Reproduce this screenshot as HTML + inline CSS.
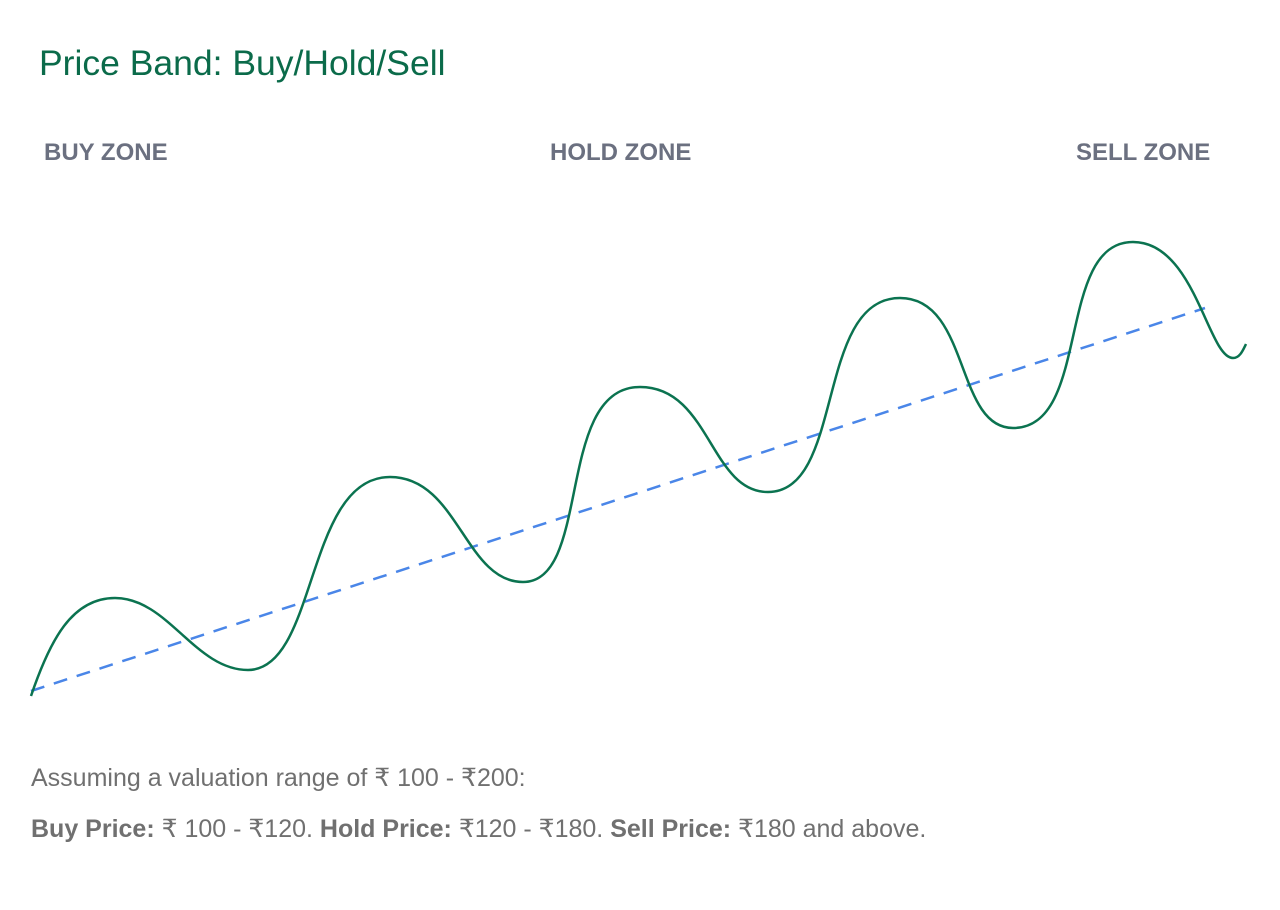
<!DOCTYPE html>
<html><head><meta charset="utf-8"><style>
body{margin:0;background:#fff;width:1280px;height:910px;overflow:hidden;font-family:"Liberation Sans",sans-serif;position:relative}
.t{position:absolute;white-space:nowrap}
</style></head><body>
<div class="t" style="left:39px;top:43px;font-size:35.5px;color:#0b6b4a">Price Band: Buy/Hold/Sell</div>
<div class="t" style="left:44px;top:139px;font-size:24px;font-weight:bold;color:#6b7080">BUY ZONE</div>
<div class="t" style="left:550px;top:139px;font-size:24px;font-weight:bold;color:#6b7080">HOLD ZONE</div>
<div class="t" style="left:1076px;top:139px;font-size:24px;font-weight:bold;color:#6b7080">SELL ZONE</div>
<svg width="1280" height="910" style="position:absolute;left:0;top:0">
<line x1="31" y1="691" x2="1205" y2="308" stroke="#4a86e8" stroke-width="2.5" stroke-dasharray="14,10"/>
<path d="M31,696 C50,640 72,598 115,598 C168,598 195,670 248,670 C318,670 305,477 390,477 C458,477 465,582 523,582 C592,582 555,387 640,387 C710,387 710,492 768,492 C845,492 815,298 900,298 C970,298 955,428 1013,428 C1092,428 1055,242 1133,242 C1195,242 1208,358 1233,358 C1240,358 1243,350 1246,344" fill="none" stroke="#0b7350" stroke-width="2.5"/>
</svg>
<div class="t" style="left:31px;top:763px;font-size:25px;color:#707070">Assuming a valuation range of ₹ 100 - ₹200:</div>
<div class="t" style="left:31px;top:814px;font-size:25px;color:#707070"><b>Buy Price:</b> ₹ 100 - ₹120. <b>Hold Price:</b> ₹120 - ₹180. <b>Sell Price:</b> ₹180 and above.</div>
</body></html>
